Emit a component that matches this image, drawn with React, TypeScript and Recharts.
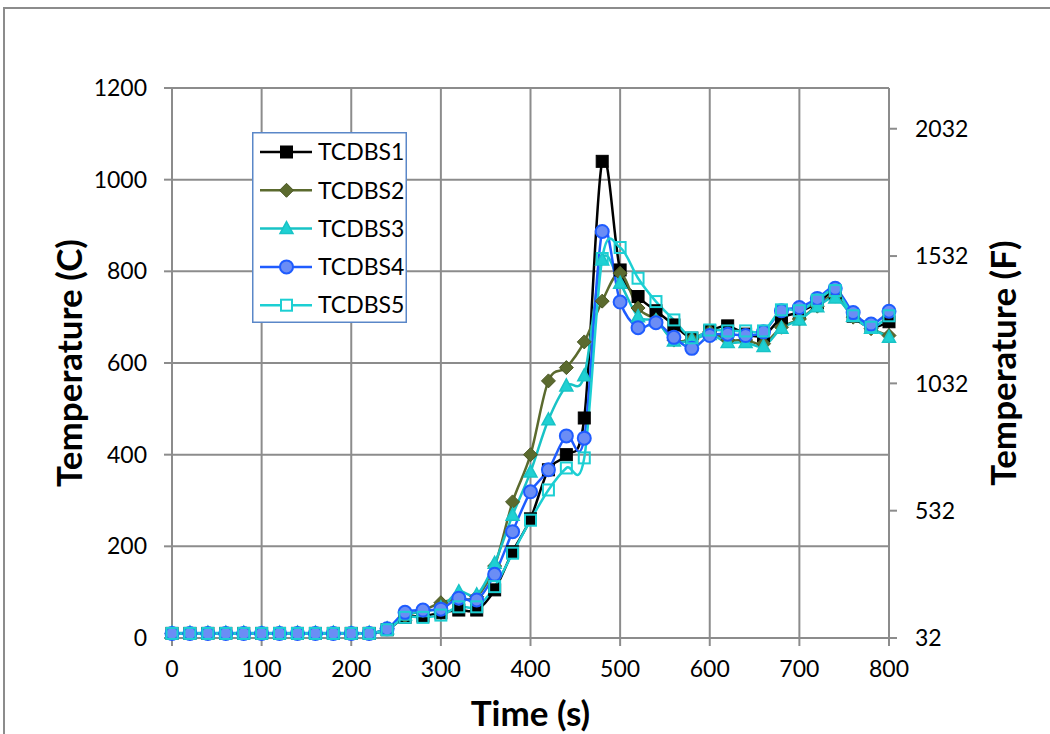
import React from "react";
import { LineChart, Line, XAxis, YAxis, CartesianGrid } from "recharts";

const times = [0,20,40,60,80,100,120,140,160,180,200,220,240,260,280,300,320,340,360,380,400,420,440,460,480,500,520,540,560,580,600,620,640,660,680,700,720,740,760,780,800];

const TCDBS1 = [10,10,10,10,10,10,10,10,10,10,10,10,18,45,48,55,61,61,105,188,260,367,400,480,1040,803,745,714,683,654,670,681,663,660,698,711,731,753,702,678,690];
const TCDBS2 = [10,10,10,10,10,10,10,10,10,10,10,10,20,48,60,77,85,90,157,297,400,561,590,646,735,796,720,694,650,652,668,650,650,642,678,696,724,746,700,675,660];
const TCDBS3 = [11,11,11,11,11,11,11,11,11,11,11,11,20,50,58,66,101,94,163,268,362,476,550,572,825,774,701,692,648,650,662,645,645,636,676,694,723,742,702,676,656];
const TCDBS4 = [10,10,10,10,10,10,10,10,10,10,10,10,20,56,61,63,87,83,139,232,319,367,441,436,887,733,677,688,656,632,660,663,660,668,714,721,741,763,710,685,713];
const TCDBS5 = [10,10,10,10,10,10,10,10,10,10,10,10,18,45,45,50,68,68,112,185,257,323,371,393,828,852,785,734,694,655,672,670,670,670,716,714,737,758,703,678,703];

const xTicks = [0,100,200,300,400,500,600,700,800];
const cTicks = [0,200,400,600,800,1000,1200];
const fTicks = [32,532,1032,1532,2032];

const seriesNames = ["TCDBS1","TCDBS2","TCDBS3","TCDBS4","TCDBS5"];

const data = times.map((t, i) => ({
  t,
  TCDBS1: TCDBS1[i],
  TCDBS2: TCDBS2[i],
  TCDBS3: TCDBS3[i],
  TCDBS4: TCDBS4[i],
  TCDBS5: TCDBS5[i],
}));

const FONT = "Lato, 'Open Sans', sans-serif";
const GRID = "#8c8c8c";

type Style = { line: string; fill: string; stroke: string; shape: string };
const styles: Record<string, Style> = {
  TCDBS1: { line: "#000000", fill: "#000000", stroke: "#000000", shape: "square" },
  TCDBS2: { line: "#5b6a2e", fill: "#5b6a2e", stroke: "#4a5724", shape: "diamond" },
  TCDBS3: { line: "#18c3c6", fill: "#1fd0d3", stroke: "#18c3c6", shape: "triangle" },
  TCDBS4: { line: "#1f5cff", fill: "#6b8df5", stroke: "#1f5cff", shape: "circle" },
  TCDBS5: { line: "#1ccfd3", fill: "none", stroke: "#1ccfd3", shape: "hsquare" },
};

function Marker({ cx, cy, s, legend }: { cx: number; cy: number; s: Style; legend?: boolean }) {
  if (cx == null || cy == null || isNaN(cx) || isNaN(cy)) return null;
  switch (s.shape) {
    case "square":
      return <rect x={cx - 6} y={cy - 6} width={12} height={12} fill={s.fill} stroke={s.stroke} strokeWidth={1} />;
    case "diamond":
      return <polygon points={`${cx},${cy - 7} ${cx + 7},${cy} ${cx},${cy + 7} ${cx - 7},${cy}`} fill={s.fill} stroke={s.stroke} strokeWidth={1} />;
    case "triangle":
      return <polygon points={`${cx},${cy - 7} ${cx + 6.5},${cy + 5} ${cx - 6.5},${cy + 5}`} fill={s.fill} stroke={s.stroke} strokeWidth={1.5} />;
    case "circle":
      return <circle cx={cx} cy={cy} r={6.5} fill={s.fill} stroke={s.stroke} strokeWidth={2} />;
    default:
      return <rect x={cx - 5.5} y={cy - 5.5} width={11} height={11} fill={legend ? "#ffffff" : "none"} stroke={s.stroke} strokeWidth={2} />;
  }
}

// Cardinal (Catmull-Rom-like) curve, similar to Excel's smoothed line
function makeCurve(k: number) {
  return function (context: any) {
    const st: any = { _context: context, _k: k, _line: NaN };
    const pt = (that: any, x: number, y: number) => {
      that._context.bezierCurveTo(
        that._x1 + that._k * (that._x2 - that._x0),
        that._y1 + that._k * (that._y2 - that._y0),
        that._x2 + that._k * (that._x1 - x),
        that._y2 + that._k * (that._y1 - y),
        that._x2,
        that._y2
      );
    };
    st.areaStart = function () { st._line = 0; };
    st.areaEnd = function () { st._line = NaN; };
    st.lineStart = function () {
      st._x0 = st._x1 = st._x2 = st._y0 = st._y1 = st._y2 = NaN;
      st._point = 0;
    };
    st.lineEnd = function () {
      switch (st._point) {
        case 2: st._context.lineTo(st._x2, st._y2); break;
        case 3: pt(st, st._x1, st._y1); break;
      }
      if (st._line || (st._line !== 0 && st._point === 1)) st._context.closePath();
      st._line = 1 - st._line;
    };
    st.point = function (x: number, y: number) {
      x = +x; y = +y;
      switch (st._point) {
        case 0: st._point = 1; st._line ? st._context.lineTo(x, y) : st._context.moveTo(x, y); break;
        case 1: st._point = 2; st._x1 = x; st._y1 = y; break;
        case 2: st._point = 3; pt(st, x, y); break;
        default: pt(st, x, y); break;
      }
      st._x0 = st._x1; st._x1 = st._x2; st._x2 = x;
      st._y0 = st._y1; st._y1 = st._y2; st._y2 = y;
    };
    return st;
  };
}
const smooth = makeCurve(1 / 6);

const LegendBox = () => {
  const w = 155, h = 191;
  return (
    <svg width={w} height={h} style={{ display: "block" }}>
      <rect x={0.75} y={0.75} width={w - 1.5} height={h - 1.5} fill="#ffffff" stroke="#5a87c8" strokeWidth={1.5} />
      {seriesNames.map((n, i) => {
        const y = 20 + i * 38.3;
        const s = styles[n];
        return (
          <g key={n}>
            <line x1={8} x2={60} y1={y} y2={y} stroke={s.line} strokeWidth={2.5} />
            <Marker cx={34.5} cy={y} s={s} legend />
            <text x={66} y={y} dy="0.36em" fontSize={23} fontFamily={FONT} fill="#000">{n}</text>
          </g>
        );
      })}
    </svg>
  );
};

const TITLE_SIZE = 35;

const LeftTitle = (props: any) => {
  const vb = props.viewBox || {};
  const cx = vb.x + 69;
  const cy = vb.y + vb.height / 2;
  return (
    <text x={cx} y={cy} transform={`rotate(-90, ${cx}, ${cy})`} textAnchor="middle" dy="0.36em" fontSize={TITLE_SIZE} fontWeight="bold" fontFamily={FONT} fill="#000">
      Temperature (C)
    </text>
  );
};
const RightTitle = (props: any) => {
  const vb = props.viewBox || {};
  const cx = vb.x + 114;
  const cy = vb.y + vb.height / 2;
  return (
    <text x={cx} y={cy} transform={`rotate(-90, ${cx}, ${cy})`} textAnchor="middle" dy="0.36em" fontSize={TITLE_SIZE} fontWeight="bold" fontFamily={FONT} fill="#000">
      Temperature (F)
    </text>
  );
};
const BottomTitle = (props: any) => {
  const vb = props.viewBox || {};
  const cx = vb.x + vb.width / 2;
  return (
    <text x={cx} y={vb.y + 88} textAnchor="middle" fontSize={TITLE_SIZE} fontWeight="bold" fontFamily={FONT} fill="#000">
      Time (s)
    </text>
  );
};

const tickStyle = { fontSize: 23, fill: "#000", fontFamily: FONT };

export default function App() {
  return (
    <div style={{ position: "absolute", left: 0, top: 0, width: 1050, height: 734, overflow: "hidden", background: "#fff" }}>
      <div style={{ position: "absolute", left: 3, top: 7, width: 1100, height: 800, borderTop: "2px solid #8c8c8c", borderLeft: "2px solid #8c8c8c" }} />
      <div style={{ position: "absolute", left: 0, top: 0 }}>
        <LineChart width={1050} height={734} data={data} margin={{ top: 88, right: 0, bottom: 0, left: 0 }}>
          <CartesianGrid yAxisId="c" stroke={GRID} strokeWidth={2} horizontalValues={cTicks} verticalValues={xTicks} />
          <XAxis
            dataKey="t"
            type="number"
            domain={[0, 800]}
            ticks={xTicks}
            height={96}
            tickSize={8}
            tickMargin={15}
            tick={tickStyle}
            axisLine={{ stroke: GRID, strokeWidth: 2 }}
            tickLine={{ stroke: GRID, strokeWidth: 2 }}
            label={<BottomTitle />}
            interval={0}
          />
          <YAxis
            yAxisId="c"
            domain={[0, 1200]}
            ticks={cTicks}
            width={172}
            tickSize={8}
            tickMargin={17}
            tick={tickStyle}
            axisLine={{ stroke: GRID, strokeWidth: 2 }}
            tickLine={{ stroke: GRID, strokeWidth: 2 }}
            label={<LeftTitle />}
            interval={0}
          />
          <YAxis
            yAxisId="f"
            orientation="right"
            domain={[32, 2192]}
            allowDataOverflow={true}
            ticks={fTicks}
            width={161}
            tickSize={8}
            tickMargin={18}
            tick={tickStyle}
            axisLine={{ stroke: GRID, strokeWidth: 2 }}
            tickLine={{ stroke: GRID, strokeWidth: 2 }}
            label={<RightTitle />}
            interval={0}
          />
          {seriesNames.map((n) => (
            <Line
              key={n}
              yAxisId="c"
              dataKey={n}
              type={smooth as any}
              stroke={styles[n].line}
              strokeWidth={2.5}
              isAnimationActive={false}
              dot={(p: any) => <Marker key={`${n}-${p.index}`} cx={p.cx} cy={p.cy} s={styles[n]} />}
              activeDot={false}
            />
          ))}
        </LineChart>
      </div>
      <div style={{ position: "absolute", left: 252, top: 132 }}>
        <LegendBox />
      </div>
    </div>
  );
}
